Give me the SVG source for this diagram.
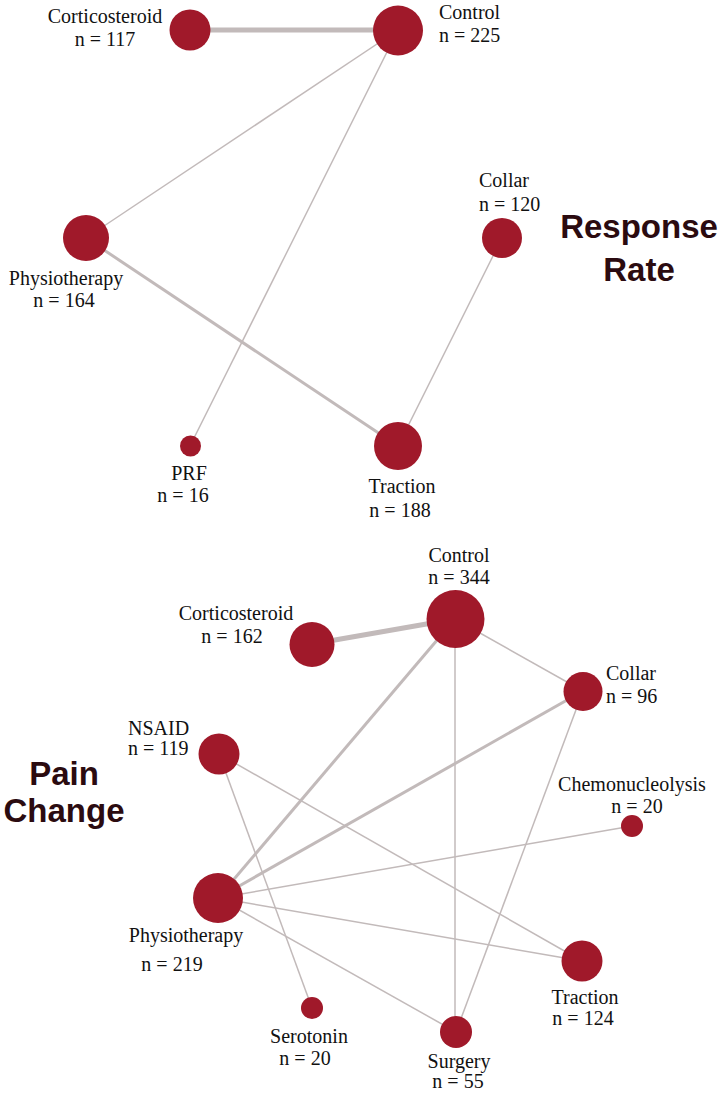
<svg xmlns="http://www.w3.org/2000/svg" width="724" height="1094" viewBox="0 0 724 1094">
<style>
.n{fill:#a0192a}
.e{stroke:#c2baba;fill:none;stroke-linecap:butt}
.t1{stroke-width:1.5}
.t2{stroke-width:3}
.t3{stroke-width:5}
.l{font-family:"Liberation Serif","Times New Roman",serif;font-size:20px;fill:#111}
.h{font-family:"Liberation Sans",Arial,sans-serif;font-size:33px;font-weight:bold;fill:#2b0b10}
</style>
<rect width="724" height="1094" fill="#fff"/>
<g id="connectors">
<line class="e t3" x1="190" y1="30" x2="398" y2="30"/>
<line class="e t1" x1="398" y1="30" x2="86" y2="238"/>
<line class="e t1" x1="398" y1="30" x2="190" y2="446"/>
<line class="e t2" x1="86" y1="238" x2="398" y2="446"/>
<line class="e t1" x1="502" y1="238" x2="398" y2="446"/>
<line class="e t3" x1="312" y1="644" x2="455" y2="619"/>
<line class="e t2" x1="455" y1="619" x2="218" y2="898"/>
<line class="e t1" x1="455" y1="619" x2="455" y2="1032"/>
<line class="e t1" x1="455" y1="619" x2="583" y2="691"/>
<line class="e t2" x1="583" y1="691" x2="218" y2="898"/>
<line class="e t1" x1="583" y1="691" x2="456" y2="1032"/>
<line class="e t1" x1="219" y1="754" x2="582" y2="961"/>
<line class="e t1" x1="219" y1="754" x2="312" y2="1008"/>
<line class="e t1" x1="218" y1="898" x2="632" y2="826"/>
<line class="e t1" x1="218" y1="898" x2="582" y2="961"/>
<line class="e t1" x1="218" y1="898" x2="456" y2="1032"/>
</g>
<g id="title-response"><text class="h" x="639" y="238" text-anchor="middle">Response</text><text class="h" x="639" y="281" text-anchor="middle">Rate</text></g>
<g id="title-pain"><text class="h" x="64" y="785" text-anchor="middle">Pain</text><text class="h" x="64" y="822" text-anchor="middle">Change</text></g>
<g id="rr-corticosteroid"><circle class="n" cx="190" cy="30" r="20.5"/><text class="l" x="105" y="23" text-anchor="middle">Corticosteroid</text><text class="l" x="105" y="46" text-anchor="middle">n = 117</text></g>
<g id="rr-control"><circle class="n" cx="398" cy="30.5" r="25"/><text class="l" x="439" y="19">Control</text><text class="l" x="439" y="42">n = 225</text></g>
<g id="rr-physiotherapy"><circle class="n" cx="86" cy="238" r="23"/><text class="l" x="66" y="285" text-anchor="middle">Physiotherapy</text><text class="l" x="64" y="307" text-anchor="middle">n = 164</text></g>
<g id="rr-collar"><circle class="n" cx="502" cy="238" r="20"/><text class="l" x="479" y="187">Collar</text><text class="l" x="479" y="211">n = 120</text></g>
<g id="rr-prf"><circle class="n" cx="190.5" cy="446" r="10.5"/><text class="l" x="189" y="480" text-anchor="middle">PRF</text><text class="l" x="183" y="502" text-anchor="middle">n = 16</text></g>
<g id="rr-traction"><circle class="n" cx="398" cy="446" r="24"/><text class="l" x="402" y="493" text-anchor="middle">Traction</text><text class="l" x="400" y="517" text-anchor="middle">n = 188</text></g>
<g id="pc-control"><circle class="n" cx="455.5" cy="619" r="29"/><text class="l" x="459" y="562" text-anchor="middle">Control</text><text class="l" x="459" y="584" text-anchor="middle">n = 344</text></g>
<g id="pc-corticosteroid"><circle class="n" cx="312" cy="644.5" r="22.5"/><text class="l" x="236" y="620" text-anchor="middle">Corticosteroid</text><text class="l" x="232" y="643" text-anchor="middle">n = 162</text></g>
<g id="pc-collar"><circle class="n" cx="583" cy="691.5" r="19.5"/><text class="l" x="606" y="680">Collar</text><text class="l" x="606" y="703">n = 96</text></g>
<g id="pc-nsaid"><circle class="n" cx="219" cy="754" r="20.5"/><text class="l" x="128" y="735">NSAID</text><text class="l" x="128" y="755">n = 119</text></g>
<g id="pc-chemonucleolysis"><circle class="n" cx="632" cy="826" r="11"/><text class="l" x="632" y="791" text-anchor="middle">Chemonucleolysis</text><text class="l" x="637" y="813" text-anchor="middle">n = 20</text></g>
<g id="pc-physiotherapy"><circle class="n" cx="218" cy="898" r="25"/><text class="l" x="186" y="942" text-anchor="middle">Physiotherapy</text><text class="l" x="172" y="971" text-anchor="middle">n = 219</text></g>
<g id="pc-traction"><circle class="n" cx="582" cy="961" r="20.5"/><text class="l" x="585" y="1004" text-anchor="middle">Traction</text><text class="l" x="583" y="1025" text-anchor="middle">n = 124</text></g>
<g id="pc-serotonin"><circle class="n" cx="312" cy="1008" r="11"/><text class="l" x="309" y="1043" text-anchor="middle">Serotonin</text><text class="l" x="305" y="1065" text-anchor="middle">n = 20</text></g>
<g id="pc-surgery"><circle class="n" cx="456" cy="1032" r="16"/><text class="l" x="459" y="1068" text-anchor="middle">Surgery</text><text class="l" x="458" y="1088" text-anchor="middle">n = 55</text></g>
</svg>
